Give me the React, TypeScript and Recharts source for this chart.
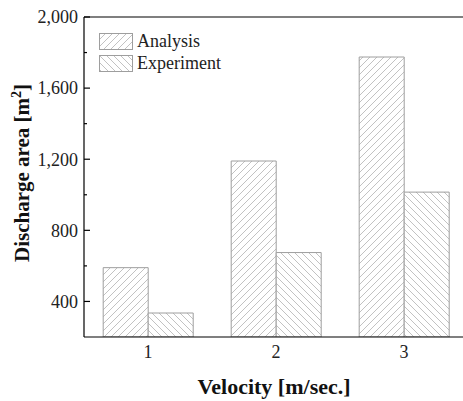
import { BarChart, Bar, XAxis, YAxis, ReferenceLine, Legend } from 'recharts';

const categories = ['1', '2', '3'];
const analysis = [590, 1190, 1775];
const experiment = [335, 675, 1015];
const yTicks = [200, 400, 600, 800, 1000, 1200, 1400, 1600, 1800, 2000];

const data = categories.map((c, i) => ({
  velocity: c,
  Analysis: analysis[i],
  Experiment: experiment[i],
}));

const FONT = '"Liberation Serif", "Times New Roman", serif';
const HATCH = '#c2c2c2';
const EDGE = '#9e9e9e';

// "/" and "\" hatching, 7px repeat
const Hatch = ({ id, dir }: { id: string; dir: 'fwd' | 'back' }) => (
  <pattern id={id} patternUnits="userSpaceOnUse" width={7} height={7}>
    <rect width={7} height={7} fill="#fff" />
    {dir === 'fwd' ? (
      <path d="M-2,2 L2,-2 M0,7 L7,0 M5,9 L9,5" stroke={HATCH} strokeWidth={1} />
    ) : (
      <path d="M-2,5 L2,9 M0,0 L7,7 M5,-2 L9,2" stroke={HATCH} strokeWidth={1} />
    )}
  </pattern>
);

const YTick = (props: any) => {
  const { x, y, payload } = props;
  const v = payload.value;
  if (v === 200) return <g />;
  const major = v % 400 === 0;
  return (
    <g>
      <line x1={x} x2={x + (major ? 6 : 3)} y1={y} y2={y} stroke="#000" strokeWidth={1.2} />
      {major && (
        <text x={x - 6} y={y} dy="0.35em" textAnchor="end" fontFamily={FONT} fontSize={18} fill="#222">
          {v.toLocaleString('en-US')}
        </text>
      )}
    </g>
  );
};

const XTick = (props: any) => {
  const { x, y, payload } = props;
  return (
    <text x={x} y={y + 21} textAnchor="middle" fontFamily={FONT} fontSize={18} fill="#222">
      {payload.value}
    </text>
  );
};

const LegendBox = () => (
  <div style={{ fontFamily: FONT, fontSize: 18, color: '#222', lineHeight: '22px' }}>
    {[
      { name: 'Analysis', dir: 'fwd' as const },
      { name: 'Experiment', dir: 'back' as const },
    ].map((item) => (
      <div key={item.name} style={{ display: 'flex', alignItems: 'center', height: 22 }}>
        <svg width={34} height={17} style={{ marginRight: 4 }}>
          <defs>
            <Hatch id={`lg-${item.dir}`} dir={item.dir} />
          </defs>
          <rect x={0.5} y={0.5} width={33} height={16} fill={`url(#lg-${item.dir})`} stroke={EDGE} />
        </svg>
        <span>{item.name}</span>
      </div>
    ))}
  </div>
);

export default function App() {
  return (
    <div style={{ position: 'absolute', left: 0, top: 0, width: 463, height: 401, overflow: 'hidden', background: '#fff' }}>
      <BarChart
        width={468}
        height={401}
        data={data}
        margin={{ top: 17, right: 0, bottom: 0, left: 0 }}
        barCategoryGap="15%"
        barGap={0}
      >
        <defs>
          <Hatch id="hatch-fwd" dir="fwd" />
          <Hatch id="hatch-back" dir="back" />
        </defs>
        <XAxis
          dataKey="velocity"
          height={64}
          tickSize={0}
          tickMargin={0}
          tickLine={false}
          axisLine={{ stroke: '#000', strokeWidth: 1.2 }}
          tick={XTick}
          label={(p: any) => {
            const vb = p.viewBox;
            return (
              <text x={vb.x + vb.width / 2 - 2} y={vb.y + 57} textAnchor="middle" fontFamily={FONT} fontSize={22} fontWeight="bold" fill="#111">
                Velocity [m/sec.]
              </text>
            );
          }}
        />
        <YAxis
          width={84}
          domain={[200, 2000]}
          ticks={yTicks}
          interval={0}
          allowDataOverflow
          tickSize={0}
          tickMargin={0}
          tickLine={false}
          axisLine={{ stroke: '#000', strokeWidth: 1.2 }}
          tick={YTick}
          label={(p: any) => {
            const vb = p.viewBox;
            const cx = 22;
            const cy = vb.y + 156;
            return (
              <text
                x={cx}
                y={cy}
                transform={`rotate(-90, ${cx}, ${cy})`}
                textAnchor="middle"
                dy="0.35em"
                fontFamily={FONT}
                fontSize={21}
                fontWeight="bold"
                fill="#111"
              >
                Discharge area [m
                <tspan dy={-8} fontSize={14}>2</tspan>
                <tspan dy={8}>]</tspan>
              </text>
            );
          }}
        />
        <ReferenceLine y={2000} stroke="#000" strokeWidth={1.2} />
        <Legend
          layout="horizontal"
          verticalAlign="middle"
          align="center"
          content={LegendBox}
          wrapperStyle={{ left: 99, top: 30, width: 'auto', height: 'auto' }}
        />
        <Bar dataKey="Analysis" fill="url(#hatch-fwd)" stroke={EDGE} strokeWidth={1} isAnimationActive={false} />
        <Bar dataKey="Experiment" fill="url(#hatch-back)" stroke={EDGE} strokeWidth={1} isAnimationActive={false} />
      </BarChart>
    </div>
  );
}
